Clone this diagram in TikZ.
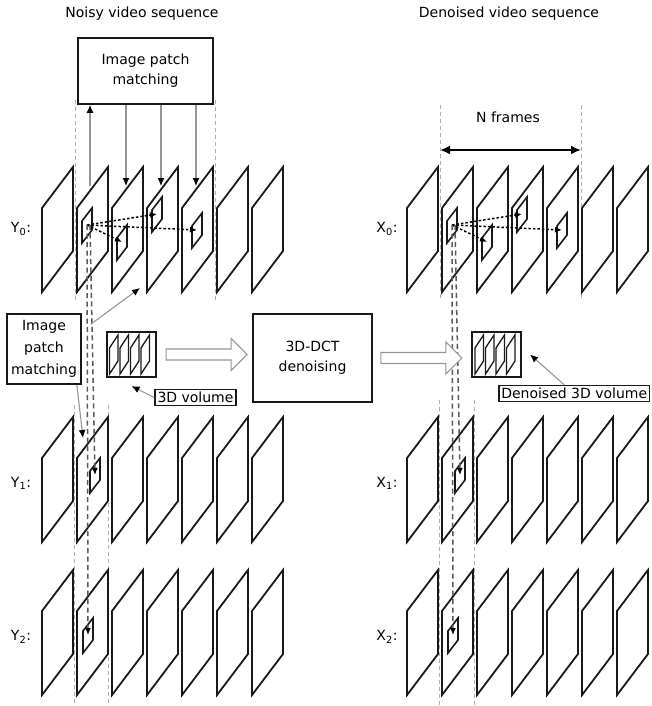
\documentclass[tikz,border=0pt]{standalone}
\usepackage{fontspec}
\setmainfont{DejaVu Sans}
\usepackage{tikz}
\usetikzlibrary{arrows.meta, positioning}
\definecolor{guidegray}{RGB}{175, 175, 175}
\definecolor{feedgray}{RGB}{150, 150, 150}
\definecolor{inkgray}{RGB}{25, 25, 25}

% one video frame, seen at a slant
\newcommand{\vidframe}[2]{%
  \draw[vframe] (#1,{#2+41}) -- ({#1+31},#2) -- ({#1+31},{#2+84}) -- (#1,{#2+125}) -- cycle;}
% one image patch, with a coordinate at its centre
\newcommand{\vidpatch}[3]{%
  \draw[vpatch] (#1,{#2+13}) -- ({#1+10},#2) -- ({#1+10},{#2+22}) -- (#1,{#2+35}) -- cycle;
  \coordinate (#3) at ({#1+5},{#2+17});}
% the four slices inside a 3D volume
\newcommand{\volstack}[1]{%
  \foreach \j in {0,...,3} {
    \draw[vpatch, line width=1.3pt] ({#1+10.5*\j},348) -- ({#1+8.5+10.5*\j},335) -- ({#1+8.5+10.5*\j},361) -- ({#1+10.5*\j},374) -- cycle;
  }}

\begin{document}
\begin{tikzpicture}[x=1pt, y=-1pt,
    every node/.style={font=\fontsize{14}{20}\selectfont, text=black},
    box/.style={rectangle, draw=inkgray, line width=1.7pt, align=center, inner sep=0pt},
    tag/.style={rectangle, draw=inkgray, line width=1.5pt, inner sep=2.5pt},
    lbl/.style={inner sep=0pt},
    vframe/.style={draw=inkgray, line width=1.8pt},
    vpatch/.style={draw=inkgray, line width=1.6pt},
    volbox/.style={rectangle, draw=inkgray, line width=2.2pt, minimum width=49pt, minimum height=45pt, inner sep=0pt},
    guide/.style={draw=guidegray, line width=0.9pt, dash pattern=on 4pt off 3pt},
    track/.style={draw=black!65, line width=1.5pt, dash pattern=on 5pt off 3.5pt, -{Latex[length=7pt,width=6pt,color=black]}},
    match/.style={draw=black, line width=1.5pt, dash pattern=on 2.5pt off 2pt, -{Latex[length=7pt,width=6pt]}},
    feed/.style={draw=feedgray, line width=1.1pt, -{Latex[length=8pt,width=7pt,color=black]}},
    span/.style={draw=black, line width=2pt, {Latex[length=10pt,width=9pt]}-{Latex[length=10pt,width=9pt]}},
    hollow/.style={draw=feedgray, line width=1.2pt, fill=white}
]
    \useasboundingbox (0,0) rectangle (652,706);

    % titles
    \node[lbl] (ttlnoisy) at (142,14) {Noisy video sequence};
    \node[lbl] (ttlclean) at (509,14) {Denoised video sequence};

    % frame guides
    \draw[guide] (75,100) -- (75,300);
    \draw[guide] (215,100) -- (215,300);
    \draw[guide] (74,405) -- (74,706);
    \draw[guide] (108,405) -- (108,706);
    \draw[guide] (440,105) -- (440,300);
    \draw[guide] (581,105) -- (581,300);
    \draw[guide] (439,400) -- (439,706);
    \draw[guide] (474,400) -- (474,706);

    % frames of both sequences
    \foreach \top in {167, 417, 570} {
      \foreach \k in {0,...,6} {
        \vidframe{42+35*\k}{\top}
        \vidframe{407+35*\k}{\top}
      }
    }

    % row labels
    \node[lbl] (y0) at (21,229) {Y\textsubscript{0}:};
    \node[lbl] (y1) at (21,483) {Y\textsubscript{1}:};
    \node[lbl] (y2) at (21,637) {Y\textsubscript{2}:};
    \node[lbl] (x0) at (387,229) {X\textsubscript{0}:};
    \node[lbl] (x1) at (387,483) {X\textsubscript{1}:};
    \node[lbl] (x2) at (387,637) {X\textsubscript{2}:};

    % patches
    \vidpatch{82}{208}{y0p2}
    \vidpatch{117}{225}{y0p3}
    \vidpatch{152}{197}{y0p4}
    \vidpatch{192}{213}{y0p5}
    \vidpatch{90}{458}{y1p}
    \vidpatch{83}{618}{y2p}
    \vidpatch{447}{208}{x0p2}
    \vidpatch{482}{225}{x0p3}
    \vidpatch{517}{197}{x0p4}
    \vidpatch{557}{213}{x0p5}
    \vidpatch{455}{458}{x1p}
    \vidpatch{448}{618}{x2p}

    % matching inside one frame row
    \draw[match] (y0p2) -- (y0p3);
    \draw[match] (y0p2) -- (y0p4);
    \draw[match] (y0p2) -- (y0p5);
    \draw[match] (x0p2) -- (x0p3);
    \draw[match] (x0p2) -- (x0p4);
    \draw[match] (x0p2) -- (x0p5);

    % matching down to the other rows
    \draw[track] ([xshift=3pt]y0p2) -- (y1p);
    \draw[track] (y0p2) -- (y2p);
    \draw[track] ([xshift=3pt]x0p2) -- (x1p);
    \draw[track] (x0p2) -- (x2p);

    % boxes
    \node[box, minimum width=135pt, minimum height=66pt] (ipm) at (145.5,71) {Image patch\\matching};
    \node[box, minimum width=74pt, minimum height=70pt, font=\fontsize{14}{22}\selectfont] (lpm) at (44,349) {Image\\patch\\matching};
    \node[box, minimum width=119pt, minimum height=88pt] (dct) at (312.5,358) {3D-DCT\\denoising};

    % links between the matching box and the frames
    \coordinate (up1) at (90,186);
    \coordinate (dn2) at (126,186);
    \coordinate (dn3) at (161,186);
    \coordinate (dn4) at (196,186);
    \draw[feed] (up1) -- (up1 |- ipm.south);
    \draw[feed] (dn2 |- ipm.south) -- (dn2);
    \draw[feed] (dn3 |- ipm.south) -- (dn3);
    \draw[feed] (dn4 |- ipm.south) -- (dn4);

    \coordinate (hit0) at (140,288);
    \coordinate (hit1) at (83,438);
    \draw[feed] (lpm.north east) ++(9,11) -- (hit0);
    \draw[feed] ([xshift=-5pt]lpm.south east) -- (hit1);

    % N frames span
    \coordinate (nfl) at (440,150);
    \coordinate (nfr) at (581,150);
    \draw[span] (nfl) -- (nfr);
    \node[lbl] (nframes) at (508,117) {N frames};

    % 3D volumes
    \node[volbox] (vol) at (131.5,354.5) {};
    \volstack{109.5}
    \node[volbox] (volden) at (496.5,354.5) {};
    \volstack{475}

    \node[tag] (voltag) at (195.5,397.5) {3D volume};
    \node[tag, anchor=west] (dentag) at (498,393.5) {Denoised 3D volume};
    \draw[feed] (voltag.west) -- ([yshift=-8pt]vol.south);
    \draw[feed] ([xshift=-10pt]dentag.north) -- ([xshift=8pt]volden.east);

    % hollow arrows
    \draw[hollow] ([xshift=9pt]vol.east) ++(0,-5.5) -- ++(65,0) -- ++(0,-10.5) -- ++(16,16) -- ++(-16,16) -- ++(0,-10.5) -- ++(-65,0) -- cycle;
    \draw[hollow] ([xshift=8pt]dct.east) ++(0,-5.5) -- ++(65,0) -- ++(0,-10.5) -- ++(16,16) -- ++(-16,16) -- ++(0,-10.5) -- ++(-65,0) -- cycle;
\end{tikzpicture}
\end{document}
